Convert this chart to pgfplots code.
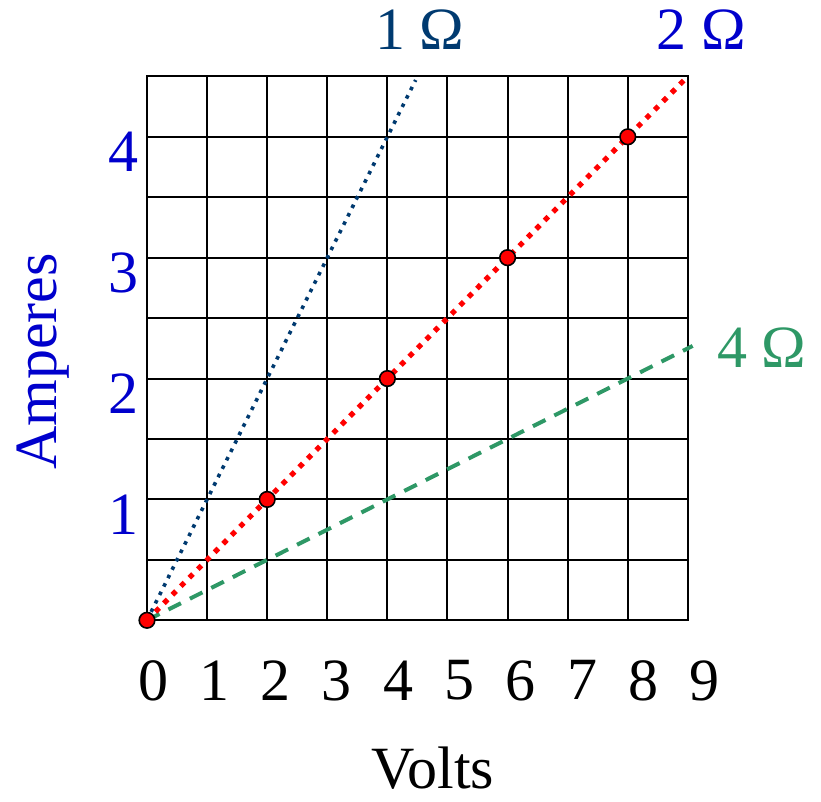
\documentclass[border=0pt]{standalone}
\usepackage{pgfplots}
\pgfplotsset{compat=1.18}
\usepackage{fontspec}
\setmainfont{Liberation Serif}

\definecolor{ohmnavy}{RGB}{0,58,112}
\definecolor{ohmblue}{RGB}{0,0,204}
\definecolor{ohmgreen}{RGB}{46,152,102}

\begin{document}
\fontsize{30}{36}\selectfont
\begin{tikzpicture}
\begin{axis}[
  scale only axis,
  width=270.5pt, height=272pt,
  xmin=0, xmax=9, ymin=0, ymax=4.5,
  clip=false,
  axis line style={line width=1pt},
  xtick={0,1,...,9},
  ytick={1,2,3,4},
  minor ytick={0.5,1.5,2.5,3.5,4.5},
  grid=both,
  major grid style={black, line width=1pt},
  minor grid style={black, line width=1pt},
  major tick length=0pt, minor tick length=0pt,
  /pgf/number format/assume math mode=true,
  ticklabel style={font=\fontsize{30}{36}\selectfont, inner sep=0pt},
  yticklabel style={text=ohmblue, anchor=east, xshift=-4pt, yshift=-7.5pt},
  xticklabel style={text=black, anchor=north, yshift=-20pt, xshift={3pt+0.61pt*\ticknum}},
]
  % 4 ohm: I = V/4
  \addplot[ohmgreen, line width=2pt, dash pattern=on 7pt off 5pt] coordinates {(0,0) (9.08,2.27)};
  % 1 ohm: I = V
  \addplot[ohmnavy, line width=1.8pt, dash pattern=on 1.8pt off 2.9pt] coordinates {(0,0) (4.47,4.47)};
  % 2 ohm: I = V/2
  \addplot[red, line width=2.6pt, dash pattern=on 2.6pt off 3.4pt] coordinates {(0,0) (8.95,4.475)};
  % measured points on the 2 ohm line
  \addplot[only marks, mark=*, mark size=3.9pt,
           mark options={fill=red, draw=black, line width=0.8pt}]
    coordinates {(0,0) (2,1) (4,2) (6,3) (8,4)};

  \node[anchor=base, inner sep=0pt, text=ohmnavy] at (axis cs:4.54,4.72) {1 Ω};
  \node[anchor=base, inner sep=0pt, text=ohmblue] at (axis cs:9.23,4.72) {2 Ω};
  \node[anchor=base, inner sep=0pt, text=ohmgreen] at (axis cs:10.23,2.09) {4 Ω};
  \node[anchor=base, inner sep=0pt] at (axis cs:4.76,-1.39) {Volts};
  \node[rotate=90, inner sep=0pt, text=ohmblue] at (axis cs:-1.73,2.14) {Amperes};

  \coordinate (bbsw) at (axis cs:-2.446,-1.50);
  \coordinate (bbne) at (axis cs:11.215,5.132);
\end{axis}
\pgfresetboundingbox
\path[use as bounding box] (bbsw) rectangle (bbne);
\end{tikzpicture}
\end{document}
